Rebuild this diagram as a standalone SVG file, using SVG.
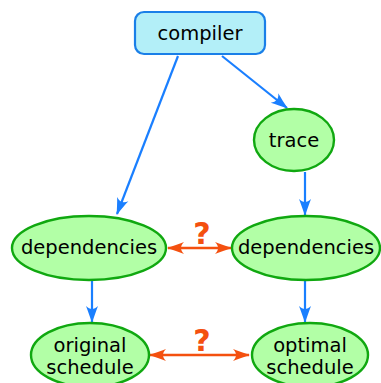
<svg xmlns="http://www.w3.org/2000/svg" width="381" height="383" viewBox="0 0 381 383">
  <defs>
    <style>
      .node { fill: #b2ffa6; stroke: #10a810; stroke-width: 2.4; }
      .box { fill: #b3eff8; stroke: #1a7fe8; stroke-width: 2.2; }
      .label { font-family: "DejaVu Sans", sans-serif; font-size: 19.5px; fill: #000; text-anchor: middle; }
      .flow { stroke: #1a7fff; stroke-width: 2.2; fill: none; marker-end: url(#blueHead); }
      .cmp { stroke: #f4500f; stroke-width: 2.4; fill: none; marker-start: url(#redTail); marker-end: url(#redHead); }
      .q { font-family: "DejaVu Sans", sans-serif; font-size: 30px; font-weight: bold; fill: #f4500f; text-anchor: middle; }
    </style>
    <marker id="blueHead" viewBox="-18 -7 20 14" markerWidth="20" markerHeight="14" refX="0" refY="0" orient="auto" markerUnits="userSpaceOnUse">
      <path d="M1,0 C-5,-2 -11,-4 -16,-6 C-12,-2 -12,2 -16,6 C-11,4 -5,2 1,0 Z" fill="#1a7fff"/>
    </marker>
    <marker id="redHead" viewBox="-18 -7 20 14" markerWidth="20" markerHeight="14" refX="0" refY="0" orient="auto" markerUnits="userSpaceOnUse">
      <path d="M1,0 C-5,-2 -11,-4 -16,-6 C-12,-2 -12,2 -16,6 C-11,4 -5,2 1,0 Z" fill="#f4500f"/>
    </marker>
    <marker id="redTail" viewBox="-2 -7 20 14" markerWidth="20" markerHeight="14" refX="0" refY="0" orient="auto" markerUnits="userSpaceOnUse">
      <path d="M-1,0 C5,-2 11,-4 16,-6 C12,-2 12,2 16,6 C11,4 5,2 -1,0 Z" fill="#f4500f"/>
    </marker>
  </defs>

  <g id="connectors">
    <line class="flow" x1="178" y1="56" x2="117" y2="214"/>
    <line class="flow" x1="222" y1="56" x2="287" y2="108"/>
    <line class="flow" x1="305" y1="172" x2="305" y2="215"/>
    <line class="flow" x1="92" y1="281" x2="92" y2="322"/>
    <line class="flow" x1="305" y1="281" x2="305" y2="322"/>
    <line class="cmp" x1="168" y1="248" x2="231" y2="248"/>
    <line class="cmp" x1="150" y1="355" x2="249" y2="355"/>
    <text class="q" x="202" y="244">?</text>
    <text class="q" x="202" y="351">?</text>
  </g>

  <g id="compiler">
    <rect class="box" x="135" y="12" width="130" height="42" rx="9"/>
    <text class="label" x="200" y="40">compiler</text>
  </g>

  <g id="trace">
    <ellipse class="node" cx="294" cy="140" rx="40" ry="31"/>
    <text class="label" x="294" y="147">trace</text>
  </g>

  <g id="dependencies-original">
    <ellipse class="node" cx="89" cy="248" rx="77" ry="32"/>
    <text class="label" x="89" y="254">dependencies</text>
  </g>

  <g id="dependencies-optimal">
    <ellipse class="node" cx="306" cy="248" rx="74" ry="32"/>
    <text class="label" x="306" y="254">dependencies</text>
  </g>

  <g id="original-schedule">
    <ellipse class="node" cx="90" cy="355" rx="59" ry="32"/>
    <text class="label" x="90" y="352">original</text>
    <text class="label" x="90" y="374">schedule</text>
  </g>

  <g id="optimal-schedule">
    <ellipse class="node" cx="310" cy="355" rx="58" ry="32"/>
    <text class="label" x="310" y="352">optimal</text>
    <text class="label" x="310" y="374">schedule</text>
  </g>
</svg>
